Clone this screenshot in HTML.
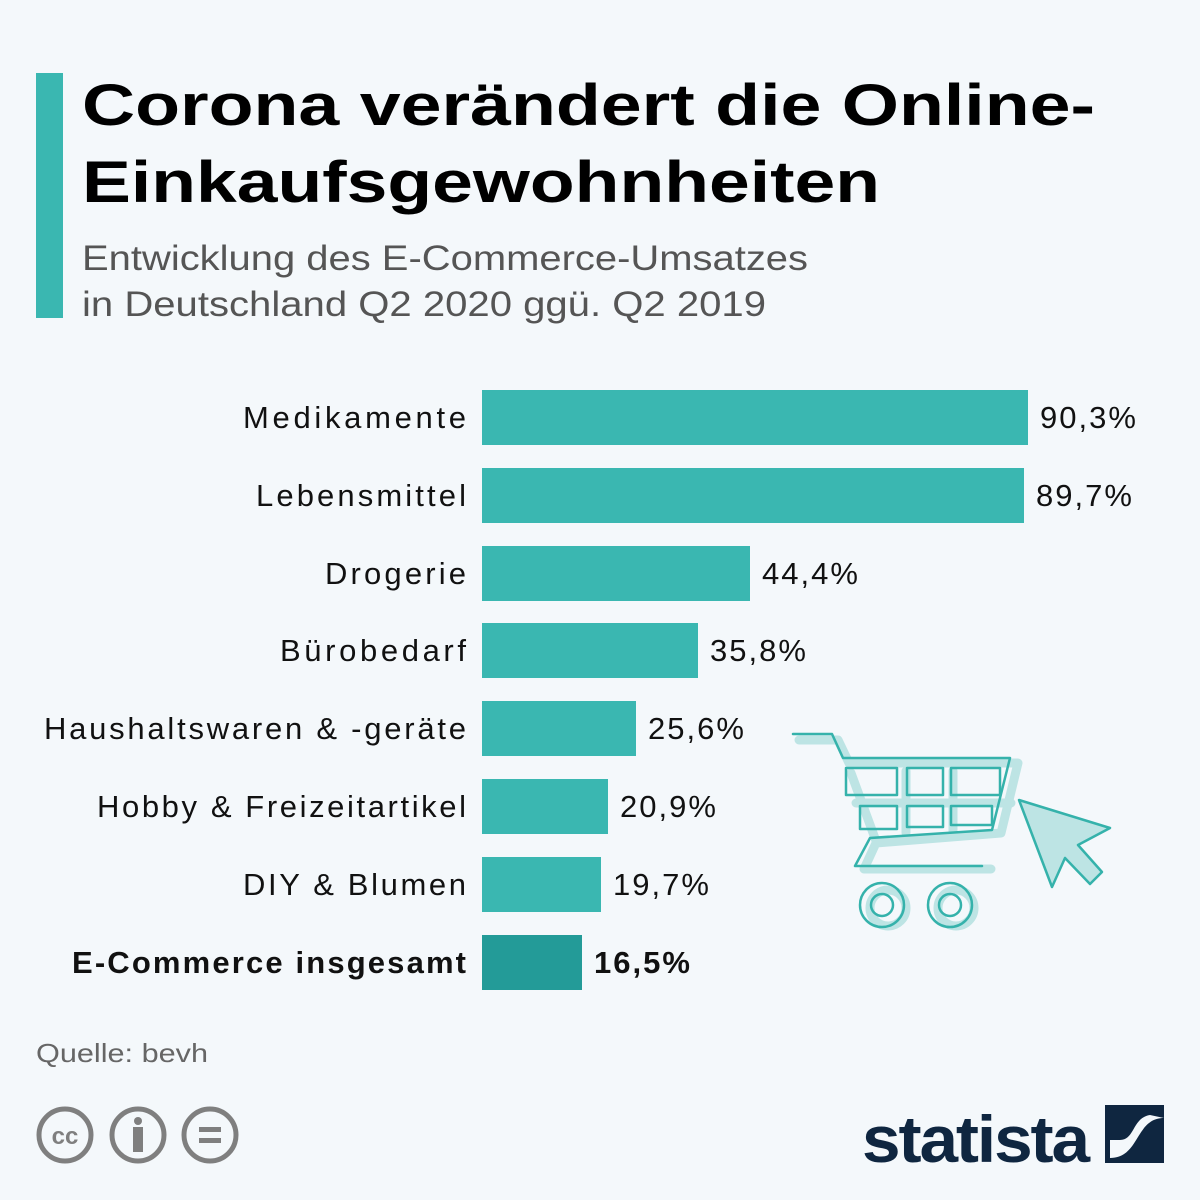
<!DOCTYPE html>
<html><head><meta charset="utf-8"><style>
html,body{margin:0;padding:0;background:#f4f8fb}
svg{display:block}
</style></head><body>
<svg width="1200" height="1200" viewBox="0 0 1200 1200" xmlns="http://www.w3.org/2000/svg" font-family="'Liberation Sans',sans-serif">
<rect width="1200" height="1200" fill="#f4f8fb"/>
<rect x="36" y="73" width="27" height="245" fill="#3ab7b1"/>
<text x="82" y="125" font-size="58" font-weight="bold" fill="#000" textLength="1013" lengthAdjust="spacingAndGlyphs">Corona verändert die Online-</text>
<text x="82" y="202" font-size="58" font-weight="bold" fill="#000" textLength="798" lengthAdjust="spacingAndGlyphs">Einkaufsgewohnheiten</text>
<text x="82" y="270" font-size="35" fill="#555" textLength="726" lengthAdjust="spacingAndGlyphs">Entwicklung des E-Commerce-Umsatzes</text>
<text x="82" y="316" font-size="35" fill="#555" textLength="684" lengthAdjust="spacingAndGlyphs">in Deutschland Q2 2020 ggü. Q2 2019</text>
<g font-size="31" fill="#111" lengthAdjust="spacingAndGlyphs">
<rect x="482" y="390" width="546" height="55" fill="#3ab7b1"/>
<text x="243" y="428" textLength="223">Medikamente</text><text x="1040" y="428" textLength="96">90,3%</text>
<rect x="482" y="468" width="542" height="55" fill="#3ab7b1"/>
<text x="256" y="506" textLength="210">Lebensmittel</text><text x="1036" y="506" textLength="96">89,7%</text>
<rect x="482" y="546" width="268" height="55" fill="#3ab7b1"/>
<text x="325" y="584" textLength="141">Drogerie</text><text x="762" y="584" textLength="96">44,4%</text>
<rect x="482" y="623" width="216" height="55" fill="#3ab7b1"/>
<text x="280" y="661" textLength="186">Bürobedarf</text><text x="710" y="661" textLength="96">35,8%</text>
<rect x="482" y="701" width="154" height="55" fill="#3ab7b1"/>
<text x="44" y="739" textLength="422">Haushaltswaren &amp; -geräte</text><text x="648" y="739" textLength="96">25,6%</text>
<rect x="482" y="779" width="126" height="55" fill="#3ab7b1"/>
<text x="97" y="817" textLength="369">Hobby &amp; Freizeitartikel</text><text x="620" y="817" textLength="96">20,9%</text>
<rect x="482" y="857" width="119" height="55" fill="#3ab7b1"/>
<text x="243" y="895" textLength="223">DIY &amp; Blumen</text><text x="613" y="895" textLength="96">19,7%</text>
<rect x="482" y="935" width="100" height="55" fill="#239b98"/>
<text x="72" y="973" font-weight="bold" textLength="394">E-Commerce insgesamt</text><text x="594" y="973" font-weight="bold" textLength="96">16,5%</text>
</g>
<!-- cart -->
<g fill="none" stroke-linejoin="round" stroke-linecap="round">
<g stroke="#bde4e4" stroke-width="9" transform="translate(6,3)">
<path d="M793 737 H832 L843 760 H1012 L995 830 L870 840 L858 866 H985"/>
<path d="M845 770 L870 838 M900 768 V830 M947 768 V828 M850 800 H1005"/>
<circle cx="882" cy="905" r="18"/><circle cx="950" cy="905" r="18"/>
</g>
<g stroke="#35b2ab" stroke-width="2.5">
<path d="M793 734 H832 L843 758 H1010 L992 830 L870 838 L855 866 H982"/>
<rect x="846" y="768" width="51" height="27"/><rect x="907" y="768" width="36" height="27"/><rect x="951" y="768" width="49" height="27"/>
<rect x="860" y="806" width="37" height="23"/><rect x="907" y="806" width="36" height="21"/><rect x="951" y="806" width="41" height="19"/>
<circle cx="882" cy="905" r="22"/><circle cx="882" cy="905" r="11"/>
<circle cx="950" cy="905" r="22"/><circle cx="950" cy="905" r="11"/>
</g>
<path d="M1019 800 L1110 828 L1078 845 L1102 872 L1090 884 L1065 858 L1052 887 Z" fill="#bde4e4" stroke="#35b2ab" stroke-width="2.5"/>
</g>
<text x="36" y="1062" font-size="26" fill="#666" textLength="172" lengthAdjust="spacingAndGlyphs">Quelle: bevh</text>
<g stroke="#7f7f7f" stroke-width="5" fill="none">
<circle cx="65" cy="1135" r="26"/><circle cx="138" cy="1135" r="26"/><circle cx="210" cy="1135" r="26"/>
</g>
<text x="65" y="1144" font-size="24" font-weight="bold" fill="#7f7f7f" text-anchor="middle">cc</text>
<circle cx="138" cy="1121" r="4" fill="#7f7f7f"/><rect x="133" y="1127" width="10" height="25" fill="#7f7f7f"/>
<rect x="199" y="1127" width="22" height="5" fill="#7f7f7f"/><rect x="199" y="1138" width="22" height="5" fill="#7f7f7f"/>
<text x="862" y="1162" font-size="66" font-weight="bold" fill="#0f2640" letter-spacing="-2" textLength="226" lengthAdjust="spacingAndGlyphs">statista</text>
<rect x="1105" y="1105" width="59" height="58" fill="#0f2640"/>
<path d="M1164 1118 C1135 1118 1140 1158 1110 1158 L1110 1140 L1120 1140 C1135 1140 1132 1118 1150 1115 Z" fill="#f4f8fb"/>
</svg>
</body></html>
